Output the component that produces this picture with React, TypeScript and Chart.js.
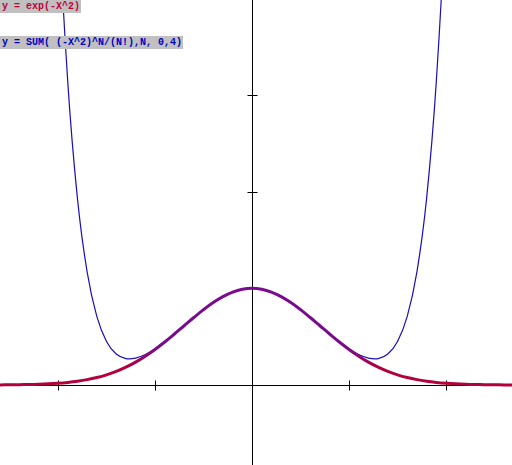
import React, { useEffect, useRef } from "react";
import { Chart, registerables } from "chart.js";

Chart.register(...registerables);

// x samples
const xValues = [
  -2.7, -2.6, -2.5, -2.4, -2.3, -2.2, -2.1, -2.0, -1.9, -1.8, -1.7, -1.6, -1.5, -1.4, -1.3, -1.2, -1.1, -1.0,
  -0.9, -0.8, -0.7, -0.6, -0.5, -0.4, -0.3, -0.2, -0.1, 0.0, 0.1, 0.2, 0.3, 0.4, 0.5, 0.6, 0.7, 0.8, 0.9,
  1.0, 1.1, 1.2, 1.3, 1.4, 1.5, 1.6, 1.7, 1.8, 1.9, 2.0, 2.1, 2.2, 2.3, 2.4, 2.5, 2.6, 2.7,
];

// y = exp(-X^2)
const gaussValues = [
  0.00068, 0.00116, 0.00193, 0.00315, 0.00504, 0.00791, 0.01216, 0.01832, 0.02705, 0.03916, 0.05558, 0.0773,
  0.1054, 0.14086, 0.18452, 0.23693, 0.2982, 0.36788, 0.44486, 0.52729, 0.61263, 0.69768, 0.7788, 0.85214,
  0.91393, 0.96079, 0.99005, 1.0, 0.99005, 0.96079, 0.91393, 0.85214, 0.7788, 0.69768, 0.61263, 0.52729,
  0.44486, 0.36788, 0.2982, 0.23693, 0.18452, 0.14086, 0.1054, 0.0773, 0.05558, 0.03916, 0.02705, 0.01832,
  0.01216, 0.00791, 0.00504, 0.00315, 0.00193, 0.00116, 0.00068,
];

// y = SUM( (-X^2)^N/(N!),N, 0,4)
const taylorValues = [
  73.39094, 52.61411, 37.16943, 25.84302, 17.65898, 11.8411, 7.77922, 5.0, 3.14156, 1.93175, 1.16969, 0.71017,
  0.45068, 0.32079, 0.27347, 0.2783, 0.31611, 0.375, 0.44741, 0.5281, 0.61284, 0.69772, 0.77881, 0.85214,
  0.91393, 0.96079, 0.99005, 1.0, 0.99005, 0.96079, 0.91393, 0.85214, 0.77881, 0.69772, 0.61284, 0.5281,
  0.44741, 0.375, 0.31611, 0.2783, 0.27347, 0.32079, 0.45068, 0.71017, 1.16969, 1.93175, 3.14156, 5.0,
  7.77922, 11.8411, 17.65898, 25.84302, 37.16943, 52.61411, 73.39094,
];

const xTicks = [-2, -1, 1, 2];
const yTicks = [1, 2, 3];

const labels = [
  { text: "y = exp(-X^2)", color: "#c0003c", top: 0 },
  { text: "y = SUM( (-X^2)^N/(N!),N, 0,4)", color: "#0000c0", top: 36 },
];

const RED = "#b4003c";
const PURPLE = "#7a0a8e";
const BLUE = "#1a10b4";

const axesPlugin = {
  id: "crossAxes",
  beforeDatasetsDraw(chart: any) {
    const { ctx, scales, chartArea } = chart;
    const xs = scales.x;
    const ys = scales.y;
    const x0 = Math.round(xs.getPixelForValue(0)) + 0.5;
    const y0 = Math.round(ys.getPixelForValue(0)) + 0.5;
    ctx.save();
    ctx.strokeStyle = "#000";
    ctx.lineWidth = 1;
    ctx.beginPath();
    ctx.moveTo(chartArea.left, y0);
    ctx.lineTo(chartArea.right, y0);
    ctx.moveTo(x0, chartArea.top);
    ctx.lineTo(x0, chartArea.bottom);
    xTicks.forEach((t) => {
      const px = Math.round(xs.getPixelForValue(t)) + 0.5;
      ctx.moveTo(px, y0 - 5);
      ctx.lineTo(px, y0 + 5);
    });
    yTicks.forEach((t) => {
      const py = Math.round(ys.getPixelForValue(t)) + 0.5;
      ctx.moveTo(x0 - 5, py);
      ctx.lineTo(x0 + 5, py);
    });
    ctx.stroke();
    ctx.restore();
  },
};

function redGradient(context: any) {
  const chart = context.chart;
  const { ctx, chartArea, scales } = chart;
  if (!chartArea || !scales.x) return RED;
  const left = chartArea.left;
  const right = chartArea.right;
  const g = ctx.createLinearGradient(left, 0, right, 0);
  const w = right - left;
  const f = (v: number) => Math.min(1, Math.max(0, (scales.x.getPixelForValue(v) - left) / w));
  g.addColorStop(0, RED);
  g.addColorStop(f(-1.3), RED);
  g.addColorStop(f(-0.95), PURPLE);
  g.addColorStop(f(0.95), PURPLE);
  g.addColorStop(f(1.3), RED);
  g.addColorStop(1, RED);
  return g;
}

export default function App() {
  const ref = useRef<HTMLCanvasElement | null>(null);

  useEffect(() => {
    document.body.style.margin = "0";
    const canvas = ref.current;
    if (!canvas) return;
    const chart = new Chart(canvas, {
      type: "line",
      data: {
        datasets: [
          {
            label: "y = exp(-X^2)",
            data: xValues.map((x, i) => ({ x, y: gaussValues[i] })),
            borderColor: redGradient,
            borderWidth: 3,
            pointRadius: 0,
            tension: 0.4,
            fill: false,
          },
          {
            label: "y = SUM( (-X^2)^N/(N!),N, 0,4)",
            data: xValues.map((x, i) => ({ x, y: taylorValues[i] })),
            borderColor: BLUE,
            borderWidth: 1.2,
            pointRadius: 0,
            tension: 0.4,
            fill: false,
          },
        ],
      },
      options: {
        animation: false,
        responsive: false,
        maintainAspectRatio: false,
        layout: { padding: 0 },
        plugins: { legend: { display: false }, tooltip: { enabled: false } },
        elements: { line: { capBezierPoints: false } },
        scales: {
          x: { type: "linear", min: -2.598, max: 2.68, display: false },
          y: { type: "linear", min: -0.827, max: 3.98, display: false },
        },
      },
      plugins: [axesPlugin],
    });
    return () => chart.destroy();
  }, []);

  return (
    <div style={{ position: "relative", width: 512, height: 465, background: "#fff", overflow: "hidden" }}>
      <canvas ref={ref} width={512} height={465} style={{ position: "absolute", left: 0, top: 0, width: 512, height: 465 }} />
      {labels.map((l) => (
        <div
          key={l.text}
          style={{
            position: "absolute",
            left: 0,
            top: l.top,
            background: "#c0c0c0",
            color: l.color,
            fontFamily: "'Liberation Mono', 'DejaVu Sans Mono', monospace",
            fontWeight: "bold",
            fontSize: 10,
            lineHeight: "13px",
            padding: "0 1px 0 2px",
            whiteSpace: "pre",
          }}
        >
          {l.text}
        </div>
      ))}
    </div>
  );
}
